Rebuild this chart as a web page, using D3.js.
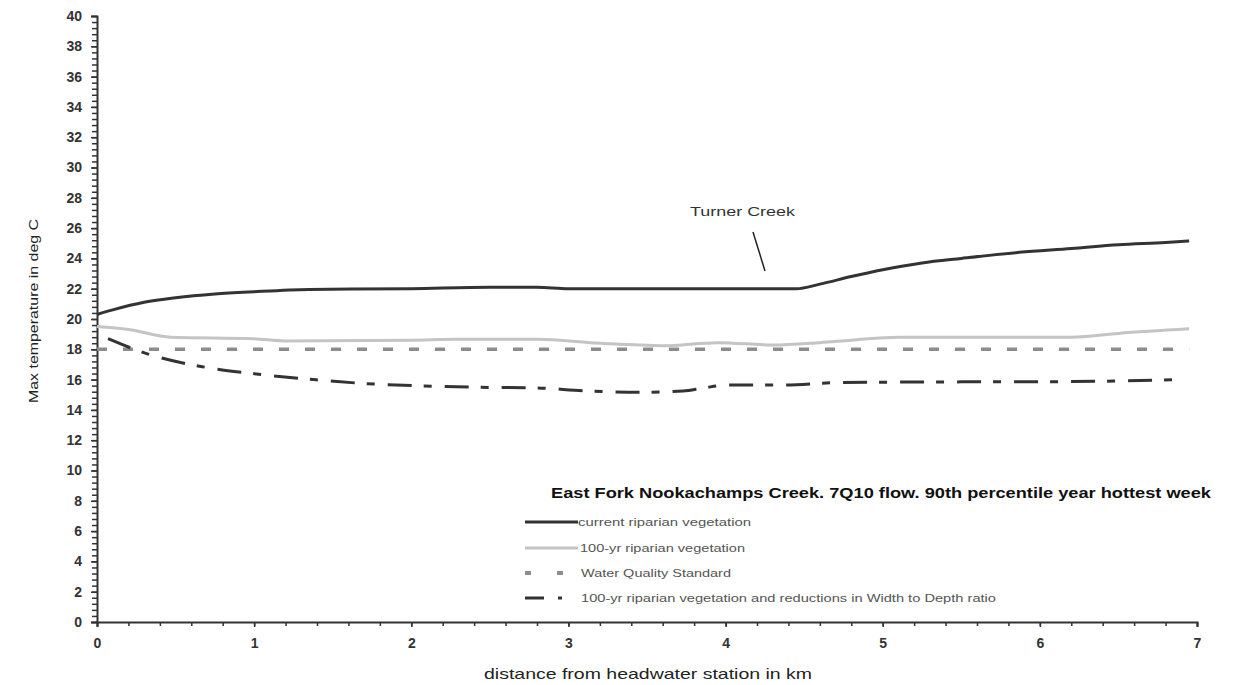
<!DOCTYPE html>
<html>
<head>
<meta charset="utf-8">
<script src="https://cdn.jsdelivr.net/npm/d3@7"></script>
<style>
  html, body { margin: 0; padding: 0; background: #fff; }
  svg { display: block; font-family: "Liberation Sans", Arial, sans-serif; }
</style>
</head>
<body>
<svg id="chart" width="1238" height="685"></svg>
<script>
// ---- data ----
const currentX = [0, 0.1, 0.3, 0.5, 0.75, 1.0, 1.35, 2.0, 2.5, 2.8, 3.0, 4.0, 4.45, 4.6, 4.8, 5.0, 5.25, 5.5, 5.87, 6.2, 6.5, 6.8, 6.95];
const currentY = [20.3, 20.6, 21.1, 21.4, 21.65, 21.8, 21.95, 22.0, 22.1, 22.1, 22.0, 22.0, 22.0, 22.3, 22.8, 23.25, 23.7, 24.0, 24.4, 24.65, 24.9, 25.05, 25.15];

const veg100X = [0, 0.2, 0.47, 1.0, 1.2, 2.0, 2.3, 2.8, 3.2, 3.6, 3.95, 4.3, 4.6, 4.8, 5.1, 6.2, 6.5, 6.95];
const veg100Y = [19.5, 19.3, 18.8, 18.7, 18.55, 18.6, 18.66, 18.66, 18.4, 18.24, 18.44, 18.28, 18.44, 18.6, 18.8, 18.8, 19.05, 19.35];

const wqsX = [0, 6.95];
const wqsY = [18, 18];

const wdX = [0.07, 0.32, 0.67, 0.99, 1.38, 1.69, 2.01, 2.39, 2.8, 3.09, 3.46, 3.73, 3.86, 4.01, 4.37, 4.71, 5.5, 6.08, 6.9];
const wdY = [18.7, 17.7, 16.85, 16.4, 16.0, 15.75, 15.6, 15.5, 15.45, 15.27, 15.16, 15.25, 15.45, 15.64, 15.64, 15.8, 15.85, 15.86, 16.0];

const xTicks = [0, 1, 2, 3, 4, 5, 6, 7];
const yTicks = [0, 2, 4, 6, 8, 10, 12, 14, 16, 18, 20, 22, 24, 26, 28, 30, 32, 34, 36, 38, 40];

const seriesNames = [
  "current riparian vegetation",
  "100-yr riparian vegetation",
  "Water Quality Standard",
  "100-yr riparian vegetation and reductions in Width to Depth ratio"
];
const legendTitle = "East Fork Nookachamps Creek. 7Q10 flow. 90th percentile year hottest week";
const annotation = { text: "Turner Creek" };
const xTitle = "distance from headwater station in km";
const yTitle = "Max temperature in deg C";

// ---- layout ----
const svg = d3.select("#chart");
const x = d3.scaleLinear().domain([0, 7]).range([97, 1197]);
const y = d3.scaleLinear().domain([0, 40]).range([622, 16]);
const axisColor = "#333";
const font = "'Liberation Sans', Arial, sans-serif";

// minor ticks
const yMinor = d3.range(0, 40.001, 0.4);
const xMinor = d3.range(0, 7.001, 0.2);

const gy = svg.append("g").attr("transform", `translate(${x(0)},0)`);
gy.call(d3.axisLeft(y).tickValues(yMinor).tickSize(5).tickFormat(""));
gy.selectAll("path").remove();
gy.selectAll("line").attr("stroke", axisColor).attr("stroke-width", 1.5);
const gy2 = svg.append("g").attr("transform", `translate(${x(0)},0)`);
gy2.call(d3.axisLeft(y).tickValues(yTicks).tickSize(6).tickPadding(9));
gy2.select("path").attr("stroke", axisColor).attr("stroke-width", 2);
gy2.selectAll("line").attr("stroke", axisColor).attr("stroke-width", 1.5);
gy2.selectAll("text").attr("font-size", 14).attr("font-weight", "bold").attr("fill", "#333")
  .attr("font-family", font);

const gx = svg.append("g").attr("transform", `translate(0,${y(0)})`);
gx.call(d3.axisBottom(x).tickValues(xMinor).tickSize(4).tickFormat(""));
gx.selectAll("path").remove();
gx.selectAll("line").attr("stroke", axisColor).attr("stroke-width", 1.5);
const gx2 = svg.append("g").attr("transform", `translate(0,${y(0)})`);
gx2.call(d3.axisBottom(x).tickValues(xTicks).tickSize(5).tickPadding(11).tickFormat(d3.format("d")));
gx2.select("path").attr("stroke", axisColor).attr("stroke-width", 2);
gx2.selectAll("line").attr("stroke", axisColor).attr("stroke-width", 1.5);
gx2.selectAll("text").attr("font-size", 14).attr("font-weight", "bold").attr("fill", "#333")
  .attr("font-family", font);

// axis titles
svg.append("text").attr("x", 648).attr("y", 679).attr("text-anchor", "middle")
  .attr("font-size", 15).attr("fill", "#222").attr("textLength", 328).attr("lengthAdjust", "spacingAndGlyphs")
  .text(xTitle);
svg.append("text").attr("transform", "translate(38,311) rotate(-90)").attr("text-anchor", "middle")
  .attr("font-size", 13).attr("fill", "#222").attr("textLength", 184).attr("lengthAdjust", "spacingAndGlyphs")
  .text(yTitle);

// lines
const line = d3.line().x(d => x(d[0])).y(d => y(d[1])).curve(d3.curveMonotoneX);
const zip = (a, b) => a.map((v, i) => [v, b[i]]);

const styles = [
  { stroke: "#333", width: 3, dash: null },
  { stroke: "#c4c4c4", width: 3, dash: null },
  { stroke: "#8c8c8c", width: 3.5, dash: "10,16" },
  { stroke: "#333", width: 3, dash: "24,12,8,13" }
];
const data = [zip(currentX, currentY), zip(veg100X, veg100Y), zip(wqsX, wqsY), zip(wdX, wdY)];
const drawOrder = [2, 3, 1, 0];
drawOrder.forEach(i => {
  svg.append("path").datum(data[i]).attr("d", line)
    .attr("fill", "none").attr("stroke", styles[i].stroke).attr("stroke-width", styles[i].width)
    .attr("stroke-dasharray", styles[i].dash);
});

// annotation
svg.append("text").attr("x", 690).attr("y", 216).attr("font-size", 13.5).attr("fill", "#333")
  .attr("textLength", 105).attr("lengthAdjust", "spacingAndGlyphs").text(annotation.text);
svg.append("line").attr("x1", 753).attr("y1", 232).attr("x2", 765).attr("y2", 271)
  .attr("stroke", "#222").attr("stroke-width", 1.5);

// legend
svg.append("text").attr("x", 551).attr("y", 498).attr("font-size", 15).attr("font-weight", "bold")
  .attr("fill", "#111").attr("textLength", 660).attr("lengthAdjust", "spacingAndGlyphs").text(legendTitle);
const legY = [522, 548, 573, 598];
const legTextX = [578, 580, 581, 581];
const legTextLen = [173, 165, 150, 415];
[0, 1].forEach(i => {
  svg.append("line").attr("x1", 525).attr("x2", 578).attr("y1", legY[i]).attr("y2", legY[i])
    .attr("stroke", styles[i].stroke).attr("stroke-width", styles[i].width);
});
svg.append("line").attr("x1", 525).attr("x2", 563).attr("y1", legY[2]).attr("y2", legY[2])
  .attr("stroke", styles[2].stroke).attr("stroke-width", 4).attr("stroke-dasharray", "6,26");
svg.append("line").attr("x1", 525).attr("x2", 562).attr("y1", legY[3]).attr("y2", legY[3])
  .attr("stroke", styles[3].stroke).attr("stroke-width", 3).attr("stroke-dasharray", "19,14,4,20");
seriesNames.forEach((s, i) => {
  svg.append("text").attr("x", legTextX[i]).attr("y", legY[i] + 4).attr("font-size", 11)
    .attr("fill", "#555").attr("textLength", legTextLen[i]).attr("lengthAdjust", "spacingAndGlyphs").text(s);
});
</script>
</body>
</html>
